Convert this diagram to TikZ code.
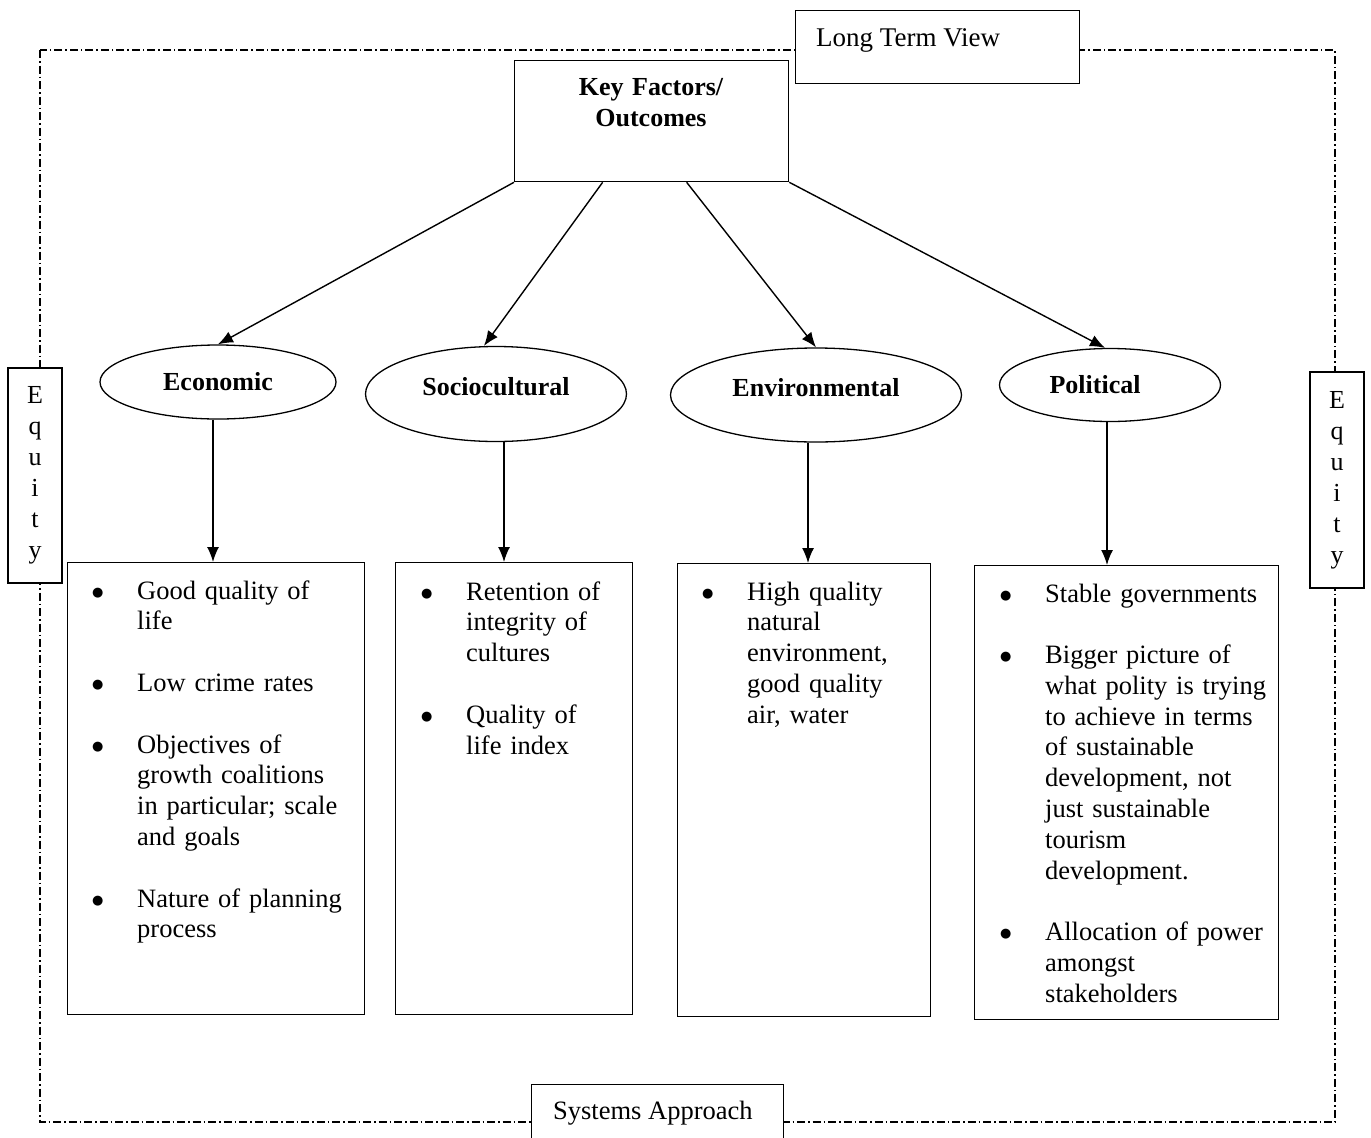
\documentclass[tikz,border=0pt]{standalone}
\usepackage{fontspec}
\setmainfont{Liberation Serif}
\newfontfamily\dejavu{DejaVu Sans}
\usetikzlibrary{arrows.meta,shapes.geometric}
\newcommand{\bitem}[1]{\noindent\hangindent=45pt\hangafter=1\makebox[45pt][l]{\raisebox{3pt}{\dejavu\fontsize{13}{13}\selectfont ●}}#1\par}
\begin{document}
\begin{tikzpicture}[x=1pt,y=-1pt,
  every node/.style={font=\fontsize{26.5}{30.8}\selectfont},
  plainbox/.style={draw,line width=1.3pt,fill=white,rectangle,inner sep=0pt,anchor=north west},
  oval/.style={draw,line width=1.3pt,ellipse,inner sep=0pt,font=\fontsize{26}{30.8}\selectfont\bfseries},
  itemlist/.style={anchor=base west,inner sep=0pt,align=left},
  arr/.style={line width=1.4pt,-{Latex[length=15pt,width=12pt]}}]
\useasboundingbox (0,0) rectangle (1371,1138);
\draw[line width=1.2pt,dash pattern=on 8pt off 3pt on 1.5pt off 3pt] (40,50) rectangle (1335,1122);

\node[plainbox,minimum width=284,minimum height=73] (ltv) at (795,10) {};
\node[anchor=base west,inner sep=0pt,font=\fontsize{27}{31}\selectfont] (ltvtext) at (816,46) {Long Term View};
\node[plainbox,minimum width=274,minimum height=121] (key) at (514,60) {};
\node[anchor=base,inner sep=0pt,text width=260,align=center,font=\fontsize{26}{31}\selectfont\bfseries] (keytext) at (651,95) {Key Factors/\\Outcomes};

\node[oval,minimum width=236,minimum height=74] (econ) at (218,382) {Economic};
\node[oval,minimum width=261,minimum height=95,text depth=16pt] (socio) at (496,394) {Sociocultural};
\node[oval,minimum width=291,minimum height=94,text depth=16pt] (env) at (816,395) {Environmental};
\node[oval,minimum width=221,minimum height=73] (pol) at (1110,385) {Political\kern30pt};

\draw[arr] (key.south west) -- (econ.north);
\draw[arr] ([xshift=-49pt]key.south) -- ([xshift=-12pt]socio.north);
\draw[arr] ([xshift=35pt]key.south) -- (env.north);
\draw[arr] (key.south east) -- ([xshift=-5pt]pol.north);

\node[plainbox,minimum width=297,minimum height=452] (ebox) at (67,562) {};
\node[plainbox,minimum width=237,minimum height=452] (sbox) at (395,562) {};
\node[plainbox,minimum width=253,minimum height=453] (nbox) at (677,563) {};
\node[plainbox,minimum width=304,minimum height=454] (pbox) at (974,565) {};

\draw[arr] ([xshift=-5pt]econ.south) -- ([xshift=-5pt]econ.south |- ebox.north);
\draw[arr] ([xshift=8pt]socio.south) -- ([xshift=8pt]socio.south |- sbox.north);
\draw[arr] ([xshift=-8pt]env.south) -- ([xshift=-8pt]env.south |- nbox.north);
\draw[arr] ([xshift=-3pt]pol.south) -- ([xshift=-3pt]pol.south |- pbox.north);

\node[itemlist,text width=268] (elist) at (92,599) {\setlength{\parskip}{30.8pt}%
\bitem{Good quality of\newline life}
\bitem{Low crime rates}
\bitem{Objectives of\newline growth coalitions\newline in particular; scale\newline and goals}
\bitem{Nature of planning\newline process}};
\node[itemlist,text width=208] (slist) at (421,600) {\setlength{\parskip}{30.8pt}%
\bitem{Retention of\newline integrity of\newline cultures}
\bitem{Quality of\newline life index}};
\node[itemlist,text width=225] (nlist) at (702,600) {\setlength{\parskip}{30.8pt}%
\bitem{High quality\newline natural\newline environment,\newline good quality\newline air, water}};
\node[itemlist,text width=276] (plist) at (1000,602) {\setlength{\parskip}{30.75pt}%
\bitem{Stable governments}
\bitem{Bigger picture of\newline what polity is trying\newline to achieve in terms\newline of sustainable\newline development, not\newline just sustainable\newline tourism\newline development.}
\bitem{Allocation of power\newline amongst\newline stakeholders}};

\node[plainbox,minimum width=54,minimum height=215,anchor=center,align=center,font=\fontsize{26}{31}\selectfont] (eqleft) at (35,475.5) {E\\q\\u\\i\\t\\y};
\node[plainbox,minimum width=54,minimum height=216,anchor=center,align=center,font=\fontsize{26}{31}\selectfont] (eqright) at (1337,480) {E\\q\\u\\i\\t\\y};

\node[plainbox,minimum width=252,minimum height=80] (sys) at (531,1084) {};
\node[anchor=base west,inner sep=0pt] (systext) at (553,1119) {Systems Approach};
\end{tikzpicture}
\end{document}
